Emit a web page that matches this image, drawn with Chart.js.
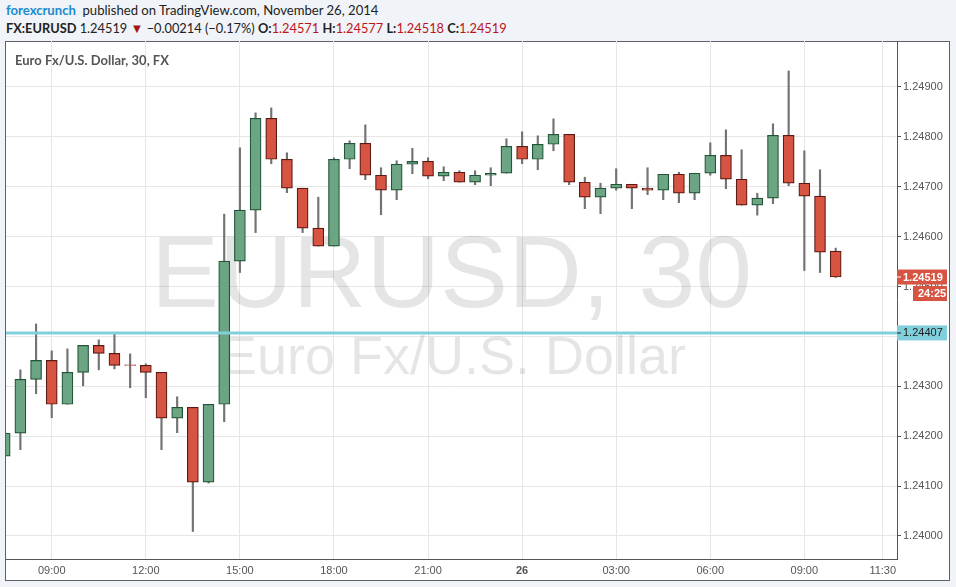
<!DOCTYPE html>
<html>
<head>
<meta charset="utf-8">
<script src="https://cdn.jsdelivr.net/npm/chart.js@4.4.0/dist/chart.umd.min.js"></script>
<style>
  body { margin:0; width:956px; height:587px; background:#f0f3f7; position:relative; overflow:hidden; font-family:Lato, sans-serif; }
  #panel { position:absolute; left:5px; top:41px; width:943px; height:538px; border:1px solid #5d606b; background:#fff; }
  #c { position:absolute; left:0; top:0; }
  .hdr { position:absolute; left:6px; color:#222; white-space:nowrap; }
  .hdr b { font-weight:700; }
  .brand { color:#1b8bd0; font-weight:700; }
  .red { color:#c0141c; }
  .tri { color:#a3141a; font-size:13px; }
  #title { position:absolute; left:15px; top:52px; font-size:13px; font-weight:700; color:#555; white-space:nowrap; }
</style>
</head>
<body>
<div class="hdr" style="top:2px;font-size:13.1px"><span class="brand">forexcrunch</span>&nbsp; published on TradingView.com, November 26, 2014</div>
<div class="hdr" style="top:20px;font-size:12.8px"><b>FX:EURUSD</b> 1.24519 <span class="tri">&#9660;</span> &minus;0.00214 (&minus;0.17%) <b>O:</b><span class="red">1.24571</span> <b>H:</b><span class="red">1.24577</span> <b>L:</b><span class="red">1.24518</span> <b>C:</b><span class="red">1.24519</span></div>
<div id="panel"></div>
<canvas id="c" width="956" height="587"></canvas>
<div id="title">Euro Fx/U.S. Dollar, 30, FX</div>
<script>
// EURUSD 30 min candles, 25 Nov 07:30 -> 26 Nov 10:00 (index = bar number)
const opens  = [1.24160,1.24206,1.24314,1.24352,1.24264,1.24328,1.24382,1.24366,1.24343,1.24342,
                1.24328,1.24236,1.24258,1.24108,1.24264,1.24551,1.24653,1.24837,1.24755,1.24697,
                1.24617,1.24581,1.24755,1.24787,1.24723,1.24693,1.24745,1.24751,1.24721,1.24729,
                1.24709,1.24723,1.24727,1.24781,1.24755,1.24785,1.24805,1.24709,1.24679,1.24697,
                1.24705,1.24697,1.24693,1.24725,1.24687,1.24727,1.24763,1.24715,1.24663,1.24677,
                1.24803,1.24707,1.24681,1.24571];
const highs  = [1.24206,1.24333,1.24425,1.24371,1.24375,1.24382,1.24393,1.24405,1.24365,1.24345,
                1.24328,1.24279,1.24258,1.24264,1.24645,1.24778,1.24848,1.24858,1.24768,1.24697,
                1.24679,1.24758,1.24792,1.24824,1.24738,1.24752,1.24777,1.24758,1.24740,1.24732,
                1.24732,1.24738,1.24796,1.24810,1.24802,1.24836,1.24805,1.24719,1.24707,1.24736,
                1.24705,1.24738,1.24725,1.24729,1.24727,1.24788,1.24814,1.24774,1.24687,1.24826,
                1.24932,1.24772,1.24734,1.24577];
const lows   = [1.24160,1.24173,1.24285,1.24237,1.24264,1.24301,1.24333,1.24335,1.24297,1.24277,
                1.24173,1.24207,1.24009,1.24106,1.24229,1.24528,1.24608,1.24746,1.24688,1.24608,
                1.24581,1.24581,1.24736,1.24714,1.24644,1.24674,1.24726,1.24716,1.24712,1.24709,
                1.24704,1.24702,1.24727,1.24746,1.24734,1.24772,1.24704,1.24656,1.24646,1.24693,
                1.24656,1.24684,1.24674,1.24668,1.24674,1.24723,1.24696,1.24663,1.24643,1.24666,
                1.24702,1.24532,1.24528,1.24518];
const closes = [1.24206,1.24314,1.24352,1.24264,1.24328,1.24382,1.24366,1.24342,1.24342,1.24328,
                1.24236,1.24258,1.24108,1.24264,1.24551,1.24653,1.24837,1.24755,1.24697,1.24617,
                1.24581,1.24755,1.24787,1.24723,1.24693,1.24745,1.24751,1.24721,1.24729,1.24709,
                1.24723,1.24727,1.24781,1.24755,1.24785,1.24805,1.24709,1.24679,1.24697,1.24705,
                1.24697,1.24693,1.24725,1.24687,1.24727,1.24763,1.24715,1.24663,1.24677,1.24803,
                1.24707,1.24681,1.24569,1.24519];

const xTickIdx    = [3, 9, 15, 21, 27, 33, 39, 45, 51, 56];
const xTickLabels = ['09:00','12:00','15:00','18:00','21:00','26','03:00','06:00','09:00','11:30'];
const yTicks      = [1.240, 1.241, 1.242, 1.243, 1.244, 1.245, 1.246, 1.247, 1.248, 1.249];
const hLine     = 1.24407;   // horizontal line drawing
const lastPrice = 1.24519;
const countdown = '24:25';

const isUp = closes.map((c, i) => c >= opens[i]);

// watermark + price labels on the right axis
const overlay = {
  id: 'overlay',
  beforeDatasetsDraw(chart) {
    const ctx = chart.ctx, a = chart.chartArea;
    const cx = (a.left + a.right) / 2;
    ctx.save();
    ctx.fillStyle = 'rgba(0,0,0,0.1)';
    ctx.textAlign = 'center';
    ctx.textBaseline = 'alphabetic';
    ctx.font = '102px "Liberation Sans"';
    ctx.fillText('EURUSD, 30', cx, 307);
    ctx.font = '54px "Liberation Sans"';
    ctx.fillText('Euro Fx/U.S. Dollar', cx + 2, 374);
    ctx.restore();
  },
  afterDraw(chart) {
    const ctx = chart.ctx, y = chart.scales.y, a = chart.chartArea;
    const box = (x0, yc, bg, fg, text, bold, tick) => {
      ctx.fillStyle = bg;
      ctx.fillRect(x0, yc - 7.5, 947 - x0, 15);
      ctx.fillStyle = fg;
      if (tick) ctx.fillRect(a.right, Math.round(yc) - 0.5, 4, 1);
      ctx.font = (bold ? 'bold ' : '') + '11px "Liberation Sans"';
      ctx.textBaseline = 'middle';
      ctx.textAlign = 'left';
      ctx.fillText(text, x0 === a.right ? 903 : x0 + 5, yc + 0.5);
    };
    ctx.save();
    const yl = y.getPixelForValue(lastPrice);
    box(a.right, yl, '#d75442', '#fff', lastPrice.toFixed(5), true, true);
    box(913, yl + 16.5, '#d75442', '#fff', countdown, true, false);
    box(a.right, y.getPixelForValue(hLine), '#80cfdb', '#1d1d1d', hLine.toFixed(5), false, true);
    ctx.restore();
  }
};

new Chart(document.getElementById('c'), {
  type: 'bar',
  data: {
    datasets: [
      {
        type: 'line',
        data: [{x: 0, y: hLine}, {x: 57, y: hLine}],
        borderColor: '#80cfdb',
        borderWidth: 3,
        pointRadius: 0,
        order: 0,
        clip: 0
      },
      {
        data: opens.map((o, i) => ({x: i, y: [o, closes[i]]})),
        backgroundColor: isUp.map(u => u ? '#6ba583' : '#d75442'),
        borderColor: isUp.map(u => u ? '#225437' : '#5b1a13'),
        borderWidth: 1.2,
        borderSkipped: false,
        barThickness: 11,
        grouped: false,
        order: 1,
        clip: 0
      },
      {
        data: lows.map((l, i) => ({x: i, y: [l, highs[i]]})),
        backgroundColor: '#737375',
        barThickness: 1.5,
        grouped: false,
        order: 2,
        clip: 0
      }
    ]
  },
  options: {
    responsive: false,
    animation: false,
    layout: { padding: { left: 6, top: 41, right: 0, bottom: 0 } },
    plugins: { legend: { display: false }, tooltip: { enabled: false } },
    scales: {
      x: {
        type: 'linear',
        min: 0.083,
        max: 56.91,
        offset: false,
        grid: { color: '#e6e6e6', drawTicks: false, offset: false },
        border: { color: '#555', width: 1 },
        afterBuildTicks: s => { s.ticks = xTickIdx.map(v => ({value: v})); },
        afterFit: s => { s.height = 28; },
        ticks: {
          autoSkip: false,
          maxRotation: 0,
          padding: 5,
          color: '#555',
          font: ctx => ({ family: '"Liberation Sans"', size: 11, weight: ctx.tick && ctx.tick.value === 33 ? 'bold' : 'normal' }),
          callback: v => xTickLabels[xTickIdx.indexOf(v)]
        }
      },
      y: {
        position: 'right',
        min: 1.239539,
        max: 1.24992,
        grid: { color: '#e6e6e6', tickColor: '#555', tickLength: 4 },
        border: { color: '#555', width: 1 },
        afterBuildTicks: s => { s.ticks = yTicks.map(v => ({value: v})); },
        afterFit: s => { s.width = 59; },
        ticks: {
          padding: 2,
          color: '#555',
          font: { family: '"Liberation Sans"', size: 11 },
          callback: v => v.toFixed(5)
        }
      }
    }
  },
  plugins: [overlay]
});
</script>
</body>
</html>
